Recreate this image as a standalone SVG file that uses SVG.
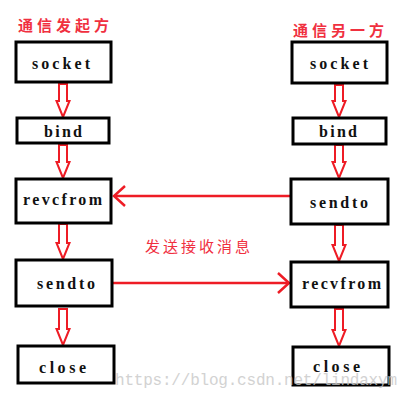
<svg xmlns="http://www.w3.org/2000/svg" width="407" height="400" viewBox="0 0 407 400">
<style>
.box{fill:#fff;stroke:#000;stroke-width:3}
.lbl{font-family:"Liberation Serif",serif;font-weight:bold;font-size:16px;fill:#111;letter-spacing:2px}
.title{font-family:"Noto Sans CJK SC",sans-serif;font-weight:bold;font-size:15px;fill:#f0303f;letter-spacing:4px}
.darr{fill:#fff;stroke:#ee1c25;stroke-width:2;stroke-linejoin:miter}
.harr{fill:none;stroke:#ee1c25;stroke-width:2.5}
.wm{font-family:"Liberation Mono",monospace;font-size:16px;fill:#c8c8c8;opacity:0.8}
</style>
<rect width="407" height="400" fill="#fff"/>
<text class="title" x="18" y="31">通信发起方</text>
<text class="title" x="293" y="36">通信另一方</text>

<g id="connectors">
  <path class="darr" d="M59,84 L67,84 L67,101 L69.5,101 L63,117 L56.5,101 L59,101 Z"/>
  <path class="darr" d="M59,145 L67,145 L67,162 L69.5,162 L63,178 L56.5,162 L59,162 Z"/>
  <path class="darr" d="M59,224 L67,224 L67,243 L69.5,243 L63,259 L56.5,243 L59,243 Z"/>
  <path class="darr" d="M59,309 L67,309 L67,329 L69.5,329 L63,345 L56.5,329 L59,329 Z"/>
  <path class="darr" d="M335,85 L343,85 L343,101 L345.5,101 L339,117 L332.5,101 L335,101 Z"/>
  <path class="darr" d="M335,145 L343,145 L343,162 L345.5,162 L339,178 L332.5,162 L335,162 Z"/>
  <path class="darr" d="M335,225 L343,225 L343,245 L345.5,245 L339,261 L332.5,245 L335,245 Z"/>
  <path class="darr" d="M335,309 L343,309 L343,330 L345.5,330 L339,346 L332.5,330 L335,330 Z"/>
  <line class="harr" x1="291" y1="196" x2="114" y2="196"/>
  <polyline class="harr" points="125,186 114,196 125,206"/>
  <line class="harr" x1="113" y1="283" x2="289" y2="283"/>
  <polyline class="harr" points="278,273 289,283 278,293"/>
  <text x="199" y="252" text-anchor="middle" style="font-family:'Noto Sans CJK SC',sans-serif;font-size:15px;fill:#f0303f;letter-spacing:3px">发送接收消息</text>
</g>

<g id="l-socket"><rect class="box" x="16" y="42" width="95" height="40"/><text class="lbl" x="32" y="69" textLength="60">socket</text></g>
<g id="l-bind"><rect class="box" x="17" y="118" width="92" height="25"/><text class="lbl" x="44" y="137" textLength="40">bind</text></g>
<g id="l-revcfrom"><rect class="box" x="16" y="179" width="95" height="44"/><text class="lbl" x="23" y="205" textLength="81">revcfrom</text></g>
<g id="l-sendto"><rect class="box" x="16" y="260" width="96" height="46"/><text class="lbl" x="37" y="289" textLength="60">sendto</text></g>
<g id="l-close"><rect class="box" x="18" y="346" width="96" height="37"/><text class="lbl" x="39" y="373" textLength="49">close</text></g>

<g id="r-socket"><rect class="box" x="292" y="42" width="95" height="41"/><text class="lbl" x="310" y="69" textLength="60">socket</text></g>
<g id="r-bind"><rect class="box" x="293" y="118" width="93" height="26"/><text class="lbl" x="319" y="137" textLength="40">bind</text></g>
<g id="r-sendto"><rect class="box" x="291" y="179" width="97" height="45"/><text class="lbl" x="310" y="208" textLength="60">sendto</text></g>
<g id="r-recvfrom"><rect class="box" x="291" y="262" width="97" height="45"/><text class="lbl" x="302" y="289" textLength="81">recvfrom</text></g>
<g id="r-close"><rect class="box" x="293" y="347" width="96" height="38"/><text class="lbl" x="313" y="372" textLength="49">close</text></g>

<text class="wm" x="115" y="385" textLength="282">https://blog.csdn.net/lindaxym</text>
</svg>
